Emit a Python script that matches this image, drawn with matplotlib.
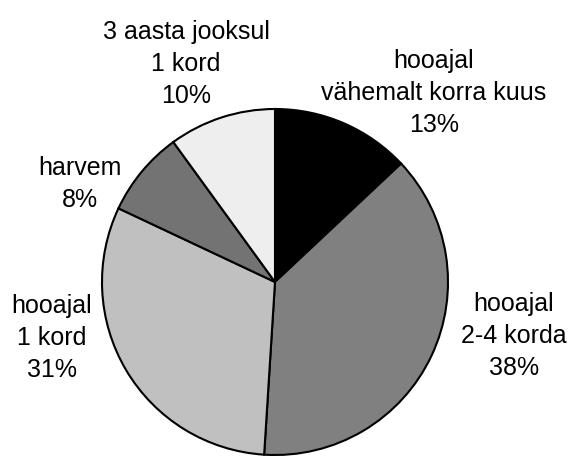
import matplotlib.pyplot as plt

labels = ["hooajal\nvähemalt korra kuus\n13%",
          "hooajal\n2-4 korda\n38%",
          "hooajal\n1 kord\n31%",
          "harvem\n8%",
          "3 aasta jooksul\n1 kord\n10%"]
values = [13, 38, 31, 8, 10]
colors = ["#000000", "#808080", "#c0c0c0", "#737373", "#eeeeee"]

plt.rcParams['font.family'] = ['Liberation Sans', 'DejaVu Sans']

W, H = 570, 459
fig = plt.figure(figsize=(W / 100, H / 100), dpi=100)

# pie: centre (275, 282) px, radius 173 px
cx, cy, r = 275, 282, 173
ax = fig.add_axes([(cx - r) / W, 1 - (cy + r) / H, 2 * r / W, 2 * r / H])
wedges, _ = ax.pie(values, colors=colors, startangle=90, counterclock=False,
                   wedgeprops=dict(edgecolor="black", linewidth=1.5))
ax.set_xlim(-1, 1)
ax.set_ylim(-1, 1)
ax.set_aspect("equal")
ax.axis("off")

# label centres in pixels
label_pos = [(434, 93), (514, 336), (52, 338), (80, 184), (186, 64)]
for txt, (x, y) in zip(labels, label_pos):
    fig.text(x / W, 1 - y / H, txt, ha="center", va="center",
             fontsize=18, linespacing=1.4)

fig.savefig("out.png", dpi=100)
